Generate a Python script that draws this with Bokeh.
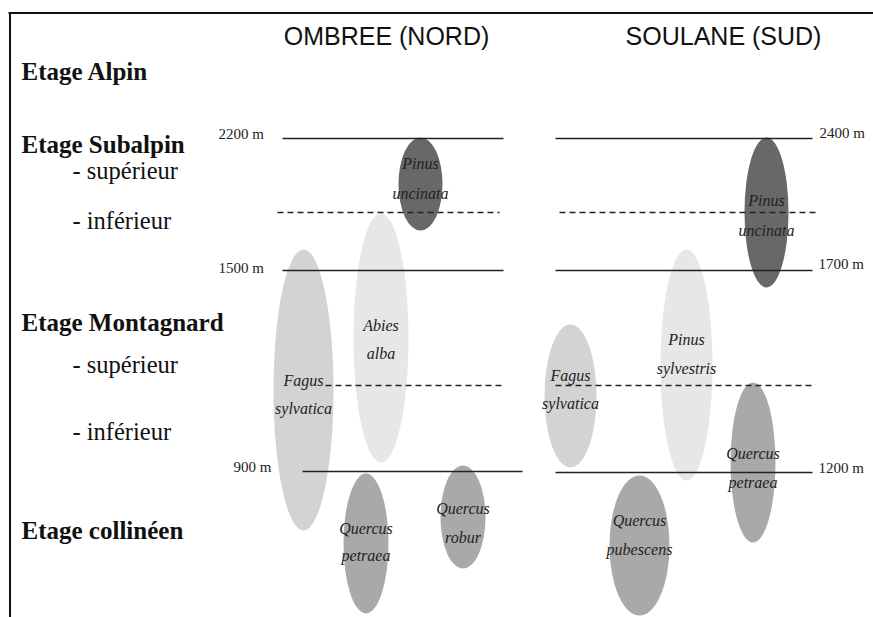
from bokeh.plotting import figure
from bokeh.models import Range1d, ColumnDataSource
from bokeh.embed import file_html
from bokeh.resources import INLINE
from bokeh.core.properties import value

# ---------------- data (diagram units: reference picture coordinates) ----------------
# Column titles
col_titles = ["OMBREE (NORD)", "SOULANE (SUD)"]
col_title_x = [386, 723]
col_title_y = [35, 35]

# Vegetation belts (left-hand labels)
stage_main = ["Etage Alpin", "Etage Subalpin", "Etage Montagnard", "Etage collinéen"]
stage_main_y = [71, 144, 322, 530]
stage_sub = ["- supérieur", "- inférieur", "- supérieur", "- inférieur"]
stage_sub_y = [170, 220, 364, 431]

# Altitude limits per side
alt_labels_n = ["2200 m", "1500 m", "900 m"]
alt_n_x = [218, 218, 233]
alt_n_y = [133, 267, 466]
alt_labels_s = ["2400 m", "1700 m", "1200 m"]
alt_s_x = [819, 818, 818]
alt_s_y = [132, 263, 467]

# Limit lines (solid = belt limits, dashed = sub-belt limits)
solid_x0 = [282, 282, 302, 555, 555, 555]
solid_x1 = [503, 503, 522, 812, 812, 812]
solid_y = [138, 270, 471, 138, 270, 472]
dash_x0 = [277, 325, 559, 555]
dash_x1 = [499, 503, 816, 813]
dash_y = [212, 385, 212, 385]

# Species ranges
genus = ["Pinus", "Abies", "Fagus", "Quercus", "Quercus",
         "Pinus", "Pinus", "Fagus", "Quercus", "Quercus"]
epithet = ["uncinata", "alba", "sylvatica", "petraea", "robur",
           "uncinata", "sylvestris", "sylvatica", "petraea", "pubescens"]
sp_x = [420, 380.5, 303, 365.5, 462.5, 766, 686, 570, 752.5, 639]
sp_top = [137, 213, 249, 473, 465, 137, 249, 324, 382, 475]
sp_bottom = [230, 462, 530, 613, 568, 287, 480, 467, 542, 615]
sp_width = [44, 55, 60, 45, 45, 44, 52, 52, 45, 60]
sp_tone = ["dark", "pale", "light", "mid", "mid",
           "dark", "pale", "light", "mid", "mid"]
label_y1 = [163, 325, 380, 528, 508, 200, 339, 375, 453, 520]
label_y2 = [193, 353, 408, 555, 537, 230, 368, 403, 482, 549]

tone_colors = {"dark": "#686868", "mid": "#a9a9a9", "light": "#d3d3d3", "pale": "#e7e7e7"}

# ---------------- figure ----------------
W, H = 873, 617
p = figure(width=W, height=H, output_backend="svg", toolbar_location=None,
           x_range=Range1d(0, W), y_range=Range1d(H, 0),
           x_axis_type=None, y_axis_type=None, min_border=0)
p.grid.visible = False
p.outline_line_color = None
p.background_fill_color = "white"
p.border_fill_color = "white"

# frame (top and left rules)
p.segment(x0=[8], y0=[12.5], x1=[W], y1=[12.5], line_color="#111111", line_width=2)
p.segment(x0=[9.5], y0=[12.5], x1=[9.5], y1=[H], line_color="#111111", line_width=2)

# species ellipses
src = ColumnDataSource(dict(
    x=sp_x,
    y=[(t + b) / 2 for t, b in zip(sp_top, sp_bottom)],
    w=sp_width,
    h=[b - t for t, b in zip(sp_top, sp_bottom)],
    color=[tone_colors[t] for t in sp_tone],
))
p.ellipse(x="x", y="y", width="w", height="h", fill_color="color",
          line_color=None, source=src)

# limit lines
p.segment(x0=solid_x0, y0=solid_y, x1=solid_x1, y1=solid_y,
          line_color="#222222", line_width=1.6)
p.segment(x0=dash_x0, y0=dash_y, x1=dash_x1, y1=dash_y,
          line_color="#222222", line_width=1.6, line_dash="6 4")

# species labels
p.text(x=sp_x, y=label_y1, text=genus, text_align="center", text_baseline="middle",
       text_font=value("Liberation Serif"), text_font_style="italic",
       text_font_size="16px", text_color="#222222")
p.text(x=sp_x, y=label_y2, text=epithet, text_align="center", text_baseline="middle",
       text_font=value("Liberation Serif"), text_font_style="italic",
       text_font_size="16px", text_color="#222222")

# column titles
p.text(x=col_title_x, y=col_title_y, text=col_titles, text_align="center",
       text_baseline="middle", text_font=value("Liberation Sans"),
       text_font_size="25px", text_color="#111111")

# belt labels
p.text(x=[21] * 4, y=stage_main_y, text=stage_main, text_align="left",
       text_baseline="middle", text_font=value("Liberation Serif"),
       text_font_style="bold", text_font_size="25px", text_color="#111111")
p.text(x=[72] * 4, y=stage_sub_y, text=stage_sub, text_align="left",
       text_baseline="middle", text_font=value("Liberation Serif"),
       text_font_size="24.5px", text_color="#111111")

# altitude labels
p.text(x=alt_n_x, y=alt_n_y, text=alt_labels_n, text_align="left",
       text_baseline="middle", text_font=value("Liberation Serif"),
       text_font_size="15px", text_color="#222222")
p.text(x=alt_s_x, y=alt_s_y, text=alt_labels_s, text_align="left",
       text_baseline="middle", text_font=value("Liberation Serif"),
       text_font_size="15px", text_color="#222222")

open("out.html", "w").write(file_html(p, INLINE))
